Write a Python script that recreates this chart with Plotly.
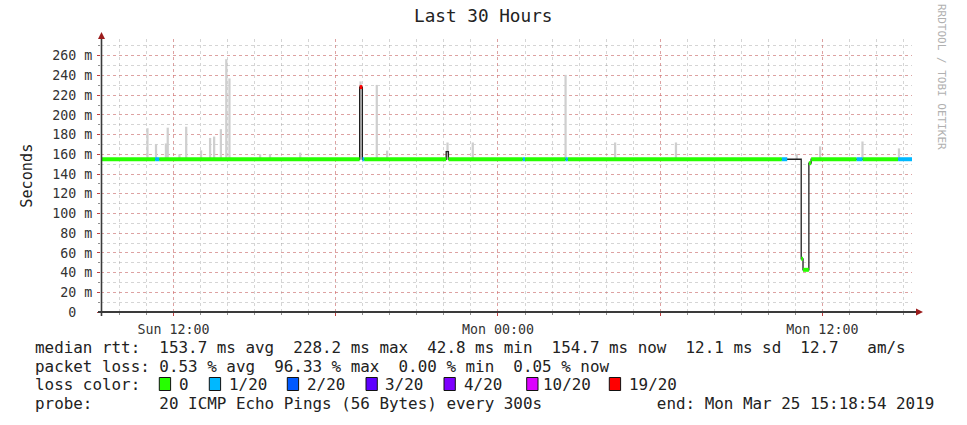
import plotly.graph_objects as go

# ---------------- data ----------------
start_time = "2019-03-24 09:18:54"
end_time = "2019-03-25 15:18:54"

# median rtt as step segments: start time, rtt (ms), lost pings out of 20 (None = no loss colour)
seg_start = [
    "2019-03-24 09:18:54", "2019-03-24 11:19", "2019-03-24 11:28", "2019-03-24 18:53",
    "2019-03-24 18:59", "2019-03-24 19:03", "2019-03-24 22:05", "2019-03-24 22:10",
    "2019-03-25 00:55", "2019-03-25 01:00", "2019-03-25 02:30", "2019-03-25 02:35",
    "2019-03-25 10:30", "2019-03-25 10:42", "2019-03-25 11:13", "2019-03-25 11:17",
    "2019-03-25 11:30", "2019-03-25 11:35", "2019-03-25 13:16", "2019-03-25 13:29",
    "2019-03-25 14:48",
]
seg_rtt = [155, 155, 155, 228.2, 155, 155, 162.7, 155, 155, 155, 155, 155,
           155, 155, 54, 42.8, 151, 155, 155, 155, 155]
seg_loss = [0, 1, 0, 19, 1, 0, None, 0, 1, 0, 1, 0,
            1, None, 0, 0, 0, 0, 1, 0, 1]

# smoke (ping spread) tops, ms
smoke_t = [
    "2019-03-24 11:02", "2019-03-24 11:21", "2019-03-24 11:43", "2019-03-24 11:47",
    "2019-03-24 12:13", "2019-03-24 12:28", "2019-03-24 13:01", "2019-03-24 13:21",
    "2019-03-24 13:30", "2019-03-24 13:45", "2019-03-24 13:57", "2019-03-24 14:04",
    "2019-03-24 15:12", "2019-03-24 15:34", "2019-03-24 16:41", "2019-03-24 18:55",
    "2019-03-24 19:31", "2019-03-24 19:54", "2019-03-24 22:08", "2019-03-24 23:04",
    "2019-03-25 02:30", "2019-03-25 04:20", "2019-03-25 06:35", "2019-03-25 11:03",
    "2019-03-25 11:55", "2019-03-25 13:29", "2019-03-25 14:50",
]
smoke_top = [186.5, 170.5, 171, 187, 160, 188, 164, 176.6, 178, 185.5, 256.5, 237,
             160, 160, 161.7, 234, 230.4, 163.7, 172, 172, 240.6, 172, 172, 160,
             168, 173, 166]
smoke_base = 155

loss_levels = [0, 1, 2, 3, 4, 10, 19]
loss_labels = ["0", "1/20", "2/20", "3/20", "4/20", "10/20", "19/20"]
loss_colors = ["#26ff00", "#00b8ff", "#0059ff", "#5e00ff", "#7e00ff", "#dd00ff", "#ff0000"]

x_tickvals = ["2019-03-24 12:00", "2019-03-24 18:00", "2019-03-25 00:00",
              "2019-03-25 06:00", "2019-03-25 12:00"]
x_ticktext = ["Sun 12:00", "", "Mon 00:00", "", "Mon 12:00"]
y_tickvals = list(range(0, 261, 20))

title_text = "Last 30 Hours"
legend_lines = [
    "median rtt:  153.7 ms avg  228.2 ms max  42.8 ms min  154.7 ms now  12.1 ms sd  12.7   am/s",
    "packet loss: 0.53 % avg  96.33 % max  0.00 % min  0.05 % now",
    "probe:       20 ICMP Echo Pings (56 Bytes) every 300s            end: Mon Mar 25 15:18:54 2019",
]

# ---------------- layout geometry ----------------
W, H = 967, 425
L, R, T, B = 101, 55, 39, 113
PW, PH = W - L - R, H - T - B
BASE_Y = H - B


def xp(px):
    return (px - L) / PW


def yp(py):
    return (BASE_Y - py) / PH


MONO = "DejaVu Sans Mono"
NB = "\u00a0"

fig = go.Figure()

# smoke
fig.add_trace(go.Bar(
    x=smoke_t, y=[t - smoke_base for t in smoke_top], base=smoke_base,
    width=300000, marker=dict(color="#cfcfcf", line=dict(width=0)),
    hoverinfo="skip",
))

# dark median line
fig.add_trace(go.Scatter(
    x=seg_start + [end_time], y=seg_rtt + [seg_rtt[-1]],
    mode="lines", line=dict(color="#202020", width=1.3, shape="hv"), hoverinfo="skip",
))

# loss-coloured median
seg_end = seg_start[1:] + [end_time]
for lvl, col in zip(loss_levels, loss_colors):
    xs, ys = [], []
    for s, e, v, l in zip(seg_start, seg_end, seg_rtt, seg_loss):
        if l == lvl:
            xs += [s, e, None]
            ys += [v, v, None]
    if xs:
        fig.add_trace(go.Scatter(x=xs, y=ys, mode="lines",
                                 line=dict(color=col, width=4), hoverinfo="skip"))

major_grid = "rgba(230,100,100,0.45)"
minor_grid = "rgba(150,150,150,0.4)"

fig.update_layout(
    width=W, height=H, margin=dict(l=L, r=R, t=T, b=B, autoexpand=False),
    paper_bgcolor="white", plot_bgcolor="white", showlegend=False,
    barmode="overlay",
    font=dict(family=MONO, color="#333333"),
    xaxis=dict(
        type="date", range=[start_time, end_time], automargin=False,
        tickmode="array", tickvals=x_tickvals, ticktext=x_ticktext,
        showgrid=True, gridcolor=major_grid, griddash="dot", gridwidth=1,
        ticks="outside", ticklen=3, tickcolor="#c04040", tickwidth=1,
        tickfont=dict(family=MONO, size=13.3, color="#333333"),
        ticklabelstandoff=2,
        minor=dict(dtick=3600000, tick0="2019-03-24 00:00", showgrid=True,
                   gridcolor=minor_grid, griddash="dot", gridwidth=1,
                   ticks="outside", ticklen=2, tickcolor="#909090"),
        zeroline=False, showline=False, fixedrange=True,
    ),
    yaxis=dict(
        range=[0, PH / 0.9856], automargin=False,
        tickmode="array", tickvals=y_tickvals,
        ticktext=[f"{v} m" if v else "0" + NB + NB for v in y_tickvals],
        showgrid=True, gridcolor=major_grid, griddash="dot", gridwidth=1,
        ticks="outside", ticklen=3, tickcolor="#c04040",
        tickfont=dict(family=MONO, size=13.3, color="#333333"),
        ticklabelstandoff=2,
        minor=dict(dtick=10, tick0=0, showgrid=True, gridcolor=minor_grid,
                   griddash="dot", gridwidth=1, ticks="outside", ticklen=2,
                   tickcolor="#909090"),
        zeroline=False, showline=False, fixedrange=True,
    ),
)

shapes = [
    # axes
    dict(type="line", xref="paper", yref="paper", x0=xp(98), x1=xp(917),
         y0=yp(BASE_Y), y1=yp(BASE_Y), line=dict(color="#3a3a3a", width=2)),
    dict(type="line", xref="paper", yref="paper", x0=xp(101.5), x1=xp(101.5),
         y0=yp(316), y1=yp(37), line=dict(color="#3a3a3a", width=1.6)),
    dict(type="path", xref="paper", yref="paper",
         path=f"M {xp(916)},{yp(308.6)} L {xp(923)},{yp(312)} L {xp(916)},{yp(315.4)} Z",
         fillcolor="#9b1c1c", line=dict(width=0)),
    dict(type="path", xref="paper", yref="paper",
         path=f"M {xp(98)},{yp(39)} L {xp(101.5)},{yp(32)} L {xp(105)},{yp(39)} Z",
         fillcolor="#9b1c1c", line=dict(width=0)),
]

annotations = [
    dict(text=title_text, x=xp(482.5), y=yp(15.5), xref="paper", yref="paper",
         showarrow=False, xanchor="center", yanchor="middle",
         font=dict(family=MONO, size=17.7, color="#222222")),
    dict(text="Seconds", x=xp(26.7), y=yp(176), xref="paper", yref="paper",
         showarrow=False, textangle=-90, xanchor="center", yanchor="middle",
         font=dict(family=MONO, size=15.2, color="#222222")),
    dict(text="RRDTOOL / TOBI OETIKER", x=xp(941), y=yp(77), xref="paper", yref="paper",
         showarrow=False, textangle=90, xanchor="center", yanchor="middle",
         font=dict(family=MONO, size=11, color="#b0b0b0")),
]

LEG_FS = 15.9
line_y = [347, 366, 403.5]
for txt, ly in zip(legend_lines, line_y):
    annotations.append(dict(
        text=txt.replace(" ", NB), x=xp(34), y=yp(ly), xref="paper", yref="paper",
        showarrow=False, xanchor="left", yanchor="middle", borderpad=0,
        font=dict(family=MONO, size=LEG_FS, color="#222222")))

annotations.append(dict(
    text="loss" + NB + "color:", x=xp(34), y=yp(384.5), xref="paper", yref="paper",
    showarrow=False, xanchor="left", yanchor="middle", borderpad=0,
    font=dict(family=MONO, size=LEG_FS, color="#222222")))

box_left_px = [159.3, 209.3, 287.3, 366, 444, 526.7, 609.3]
text_left_px = [179.3, 229.3, 307.3, 385.3, 464, 543.3, 629.3]
for lab, col, bx, tx in zip(loss_labels, loss_colors, box_left_px, text_left_px):
    shapes.append(dict(type="rect", xref="paper", yref="paper",
                       x0=xp(bx), x1=xp(bx + 11.3), y0=yp(390.5), y1=yp(377.5),
                       fillcolor=col, line=dict(color="#111111", width=1)))
    annotations.append(dict(
        text=lab, x=xp(tx - 1), y=yp(384.5), xref="paper", yref="paper",
        showarrow=False, xanchor="left", yanchor="middle", borderpad=0,
        font=dict(family=MONO, size=LEG_FS, color="#222222")))

fig.update_layout(shapes=shapes, annotations=annotations)

fig.write_html(
    "out.html",
    config={"displayModeBar": False},
    post_script="document.body.style.margin='0';document.body.style.overflow='hidden';",
)
